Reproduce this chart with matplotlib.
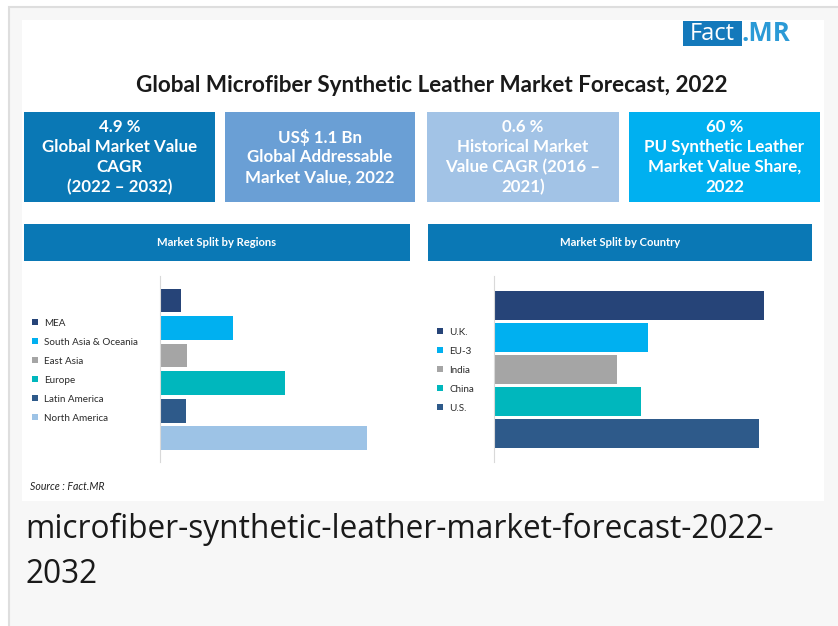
import matplotlib
matplotlib.use("Agg")
import matplotlib.pyplot as plt
from matplotlib.patches import Rectangle

W, H = 838, 626

# donnees (longueurs relatives des barres)
regions = ["MEA", "South Asia & Oceania", "East Asia", "Europe",
           "Latin America", "North America"]
regions_vals = [2.1, 7.3, 2.7, 12.5, 2.6, 20.7]
regions_cols = ["#264478", "#00b0f0", "#a5a5a5", "#00b7bd", "#2e5a8a", "#9dc3e6"]

pays = ["U.K.", "EU-3", "India", "China", "U.S."]
pays_vals = [27.0, 15.4, 12.3, 14.7, 26.5]
pays_cols = ["#264478", "#00b0f0", "#a5a5a5", "#00b7bd", "#2e5a8a"]

kpi_textes = ["4.9 %\nGlobal Market Value\nCAGR\n(2022 \u2013 2032)",
              "US$ 1.1 Bn\nGlobal Addressable\nMarket Value, 2022",
              "0.6 %\nHistorical Market\nValue CAGR (2016 \u2013\n2021)",
              "60 %\nPU Synthetic Leather\nMarket Value Share,\n2022"]
kpi_cols = ["#0a78b5", "#6a9fd5", "#a2c3e6", "#00b0f0"]

titre = "Global Microfiber Synthetic Leather Market Forecast, 2022"
legende_bas = "microfiber-synthetic-leather-market-forecast-2022-\n2032"

police = "Lato"

fig = plt.figure(figsize=(W / 100, H / 100), dpi=100)
fig.patch.set_facecolor("white")

bg = fig.add_axes([0, 0, 1, 1])
bg.set_xlim(0, W)
bg.set_ylim(H, 0)
bg.axis("off")


def rect(x0, y0, x1, y1, **kw):
    bg.add_patch(Rectangle((x0, y0), x1 - x0, y1 - y0, **kw))


# carte grise + panneau blanc
rect(9, 7, W + 5, H + 5, facecolor="#f7f7f7", edgecolor="#dedede", lw=1.5)
rect(22, 20, 824, 501, facecolor="white", edgecolor="none")

# logo
rect(683, 21, 742, 46, facecolor="#1479bb", edgecolor="none")
bg.text(712.5, 33.5, "Fact", color="white", fontsize=17, family="Open Sans",
        ha="center", va="center")
bg.text(741, 33.5, ".MR", color="#2b9ad6", fontsize=18.5, family="Open Sans",
        fontweight="bold", ha="left", va="center")

# titre
bg.text(432, 86, titre, fontsize=16.2, fontweight="bold", family=police,
        color="#1a1a1a", ha="center", va="center")

# cartouches KPI
kpi_x = [(24, 215), (225, 415), (427, 619), (629, 820)]
for (x0, x1), txt, c in zip(kpi_x, kpi_textes, kpi_cols):
    rect(x0, 112, x1, 202, facecolor=c, edgecolor="none")
    bg.text((x0 + x1) / 2, 157, txt, color="white", fontsize=12.2,
            fontweight="bold", family=police, ha="center", va="center",
            linespacing=1.3)

# bandeaux
for (x0, x1), txt in [((24, 410), "Market Split by Regions"),
                      ((428, 812), "Market Split by Country")]:
    rect(x0, 224, x1, 261, facecolor="#0a78b5", edgecolor="none")
    bg.text((x0 + x1) / 2, 242.5, txt, color="white", fontsize=8.1,
            fontweight="bold", family=police, ha="center", va="center")

bg.text(30, 487, "Source : Fact.MR", fontsize=7.6, style="italic",
        family=police, color="#222222", ha="left", va="center")

bg.text(25, 552, legende_bas, fontsize=22.8, family="Open Sans",
        color="#1a1a1a", ha="left", va="center", linespacing=1.5)


def px_axes(x0, y0, x1, y1):
    return fig.add_axes([x0 / W, 1 - y1 / H, (x1 - x0) / W, (y1 - y0) / H])


def graphe(ax, noms, vals, cols, haut, ylim, xmax, leg_xy, leg_dy):
    for i, (n, v, c) in enumerate(zip(noms, vals, cols)):
        ax.barh(i, v, height=haut, color=c, label=n)
    ax.set_ylim(*ylim)
    ax.set_xlim(0, xmax)
    for s in ["top", "right", "bottom"]:
        ax.spines[s].set_visible(False)
    ax.spines["left"].set_color("#d9d9d9")
    ax.spines["left"].set_linewidth(0.8)
    ax.set_xticks([])
    ax.set_yticks([])
    ax.patch.set_alpha(0)
    ax.legend(loc="upper left", bbox_to_anchor=(leg_xy[0] / W, 1 - leg_xy[1] / H),
              bbox_transform=fig.transFigure,
              frameon=False, prop={"family": police, "size": 7.1},
              handlelength=0.6, handleheight=0.6, handletextpad=0.65,
              labelspacing=leg_dy, borderpad=0, borderaxespad=0,
              labelcolor="#2a2a2a")


ax1 = px_axes(160, 276, 400, 462)
graphe(ax1, regions, regions_vals, regions_cols, 0.87, (5.87, -0.89), 24,
       (32, 318.5), 1.02)

ax2 = px_axes(494, 276, 800, 462)
graphe(ax2, pays, pays_vals, pays_cols, 0.9, (4.9, -0.91), 30.6,
       (437, 327.5), 1.02)

fig.savefig("out.png", dpi=100, facecolor=fig.get_facecolor())
